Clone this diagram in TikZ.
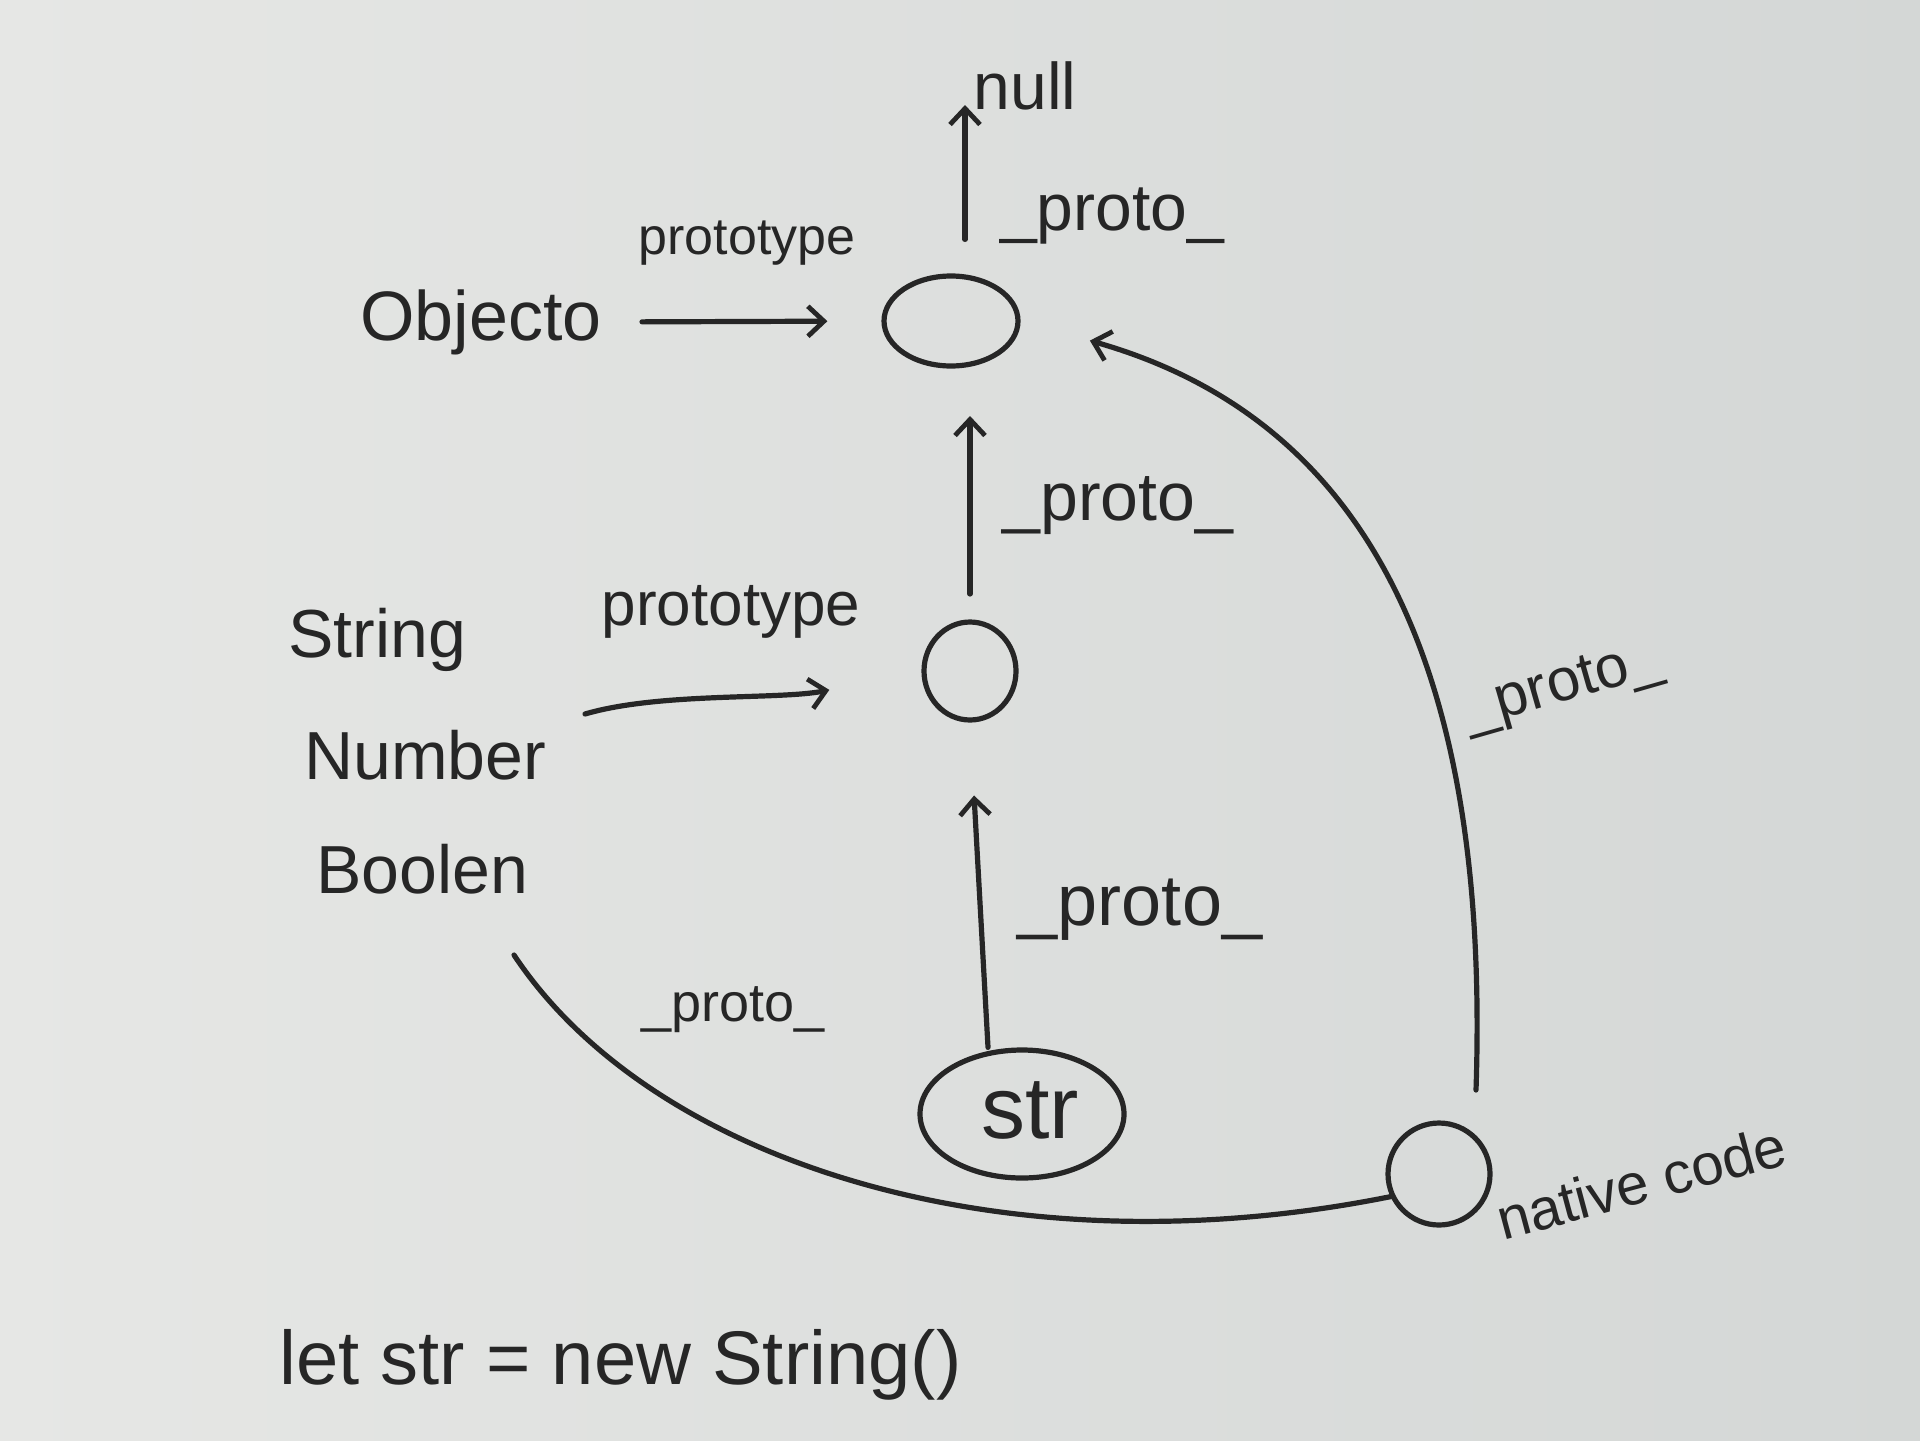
\documentclass[tikz,border=0pt]{standalone}
\usepackage{fontspec}
\setmainfont{Liberation Sans}
\usetikzlibrary{shapes.geometric,arrows.meta}
\definecolor{ink}{RGB}{38,38,38}
\definecolor{paperL}{RGB}{230,231,229}
\definecolor{paperR}{RGB}{212,215,214}
\newcommand{\fs}[1]{\fontsize{#1pt}{#1pt}\selectfont}
\tikzset{
  pen/.style={draw=ink, line width=2.6pt, line cap=round, line join=round},
  arr/.style={pen, -{Straight Barb[length=8pt,width=15pt,line width=2.4pt]}},
  blob/.style={pen, ellipse, inner sep=0pt},
  lbl/.style={text=ink, inner sep=0pt},
}
\begin{document}
\begin{tikzpicture}[x=0.5pt,y=-0.5pt]
\shade[left color=paperL, right color=paperR] (0,0) rectangle (1920,1440);
\useasboundingbox (0,0) rectangle (1920,1440);

% object nodes
\node[blob, minimum width=67pt, minimum height=45pt] (top) at (951,321) {};
\node[blob, minimum width=46pt, minimum height=49pt] (mid) at (970,671) {};
\node[blob, minimum width=102pt, minimum height=64pt, text=ink, font=\fs{44}, text depth=4pt] (strobj) at (1022,1114) {\hspace*{8pt}str};
\node[blob, minimum width=51pt, minimum height=51pt] (native) at (1439,1174) {};

% text labels
\node[lbl, font=\fs{33}] (null) at (1025,86) {null};
\node[lbl, font=\fs{33}] (p1) at (1112,216) {\_proto\_};
\node[lbl, font=\fs{35}] (objecto) at (481,322) {Objecto};
\node[lbl, font=\fs{26}] (pt1) at (747,243) {prototype};
\node[lbl, font=\fs{34}] (p2) at (1118,506) {\_proto\_};
\node[lbl, font=\fs{34}, anchor=west] (string) at (288,640) {String};
\node[lbl, font=\fs{34}, anchor=west] (number) at (304,755) {Number};
\node[lbl, font=\fs{34}, anchor=west] (boolen) at (316,869) {Boolen};
\node[lbl, font=\fs{31}] (pt2) at (731,612) {prototype};
\node[lbl, font=\fs{36}] (p3) at (1140,910) {\_proto\_};
\node[lbl, font=\fs{30}, rotate=16] (p4) at (1563,688) {\_proto\_};
\node[lbl, font=\fs{27}] (p5) at (733,1010) {\_proto\_};
\node[lbl, font=\fs{29}, rotate=15] (ncode) at (1641,1182) {native code};
\node[lbl, font=\fs{38}, anchor=west] (code) at (279,1365) {let str = new String()};

% free connector ends
\coordinate (nulltip) at (965,105);
\coordinate (typesout) at (585,714);
\coordinate (rstart) at (1476,1090);
\coordinate (bstart) at (514,955);

% connectors
\draw[arr, shorten <=17pt] ([xshift=7pt]top.north) -- (nulltip);
\draw[arr, shorten <=20pt, shorten >=27pt] (objecto.east) -- (top.west);
\draw[arr, shorten <=12.7pt, shorten >=23.7pt] (mid.north) -- (mid.north |- top.south);
\draw[arr, shorten >=47pt] (typesout) .. controls (660,692) and (780,700) .. (mid.west);
\draw[arr, shorten >=36.5pt] ([xshift=-17pt]strobj.north) -- (mid.south);
\draw[arr, shorten >=36pt] (rstart) .. controls (1490,670) and (1370,420) .. (top.east);
\draw[pen] (bstart) .. controls (650,1160) and (1000,1275) .. (native.205);
\end{tikzpicture}
\end{document}
